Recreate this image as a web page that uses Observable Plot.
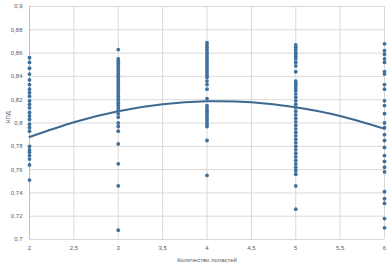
<!DOCTYPE html>
<html><head><meta charset="utf-8">
<script src="https://cdn.jsdelivr.net/npm/d3@7"></script>
<script src="https://cdn.jsdelivr.net/npm/@observablehq/plot@0.6"></script>
<style>body{margin:0;background:#fff}</style>
</head><body><div id="chart"></div>
<script>
const blades = [2, 3, 4, 5, 6];
const eff2 = [0.856,0.852,0.847,0.842,0.837,0.833,0.829,0.826,0.823,0.819,0.816,0.813,0.809,0.806,0.803,0.799,0.796,0.793,0.780,0.777,0.775,0.772,0.769,0.764,0.751];
const eff3 = [0.863,0.855,0.853,0.851,0.849,0.847,0.845,0.843,0.841,0.839,0.837,0.835,0.833,0.831,0.829,0.827,0.825,0.823,0.821,0.819,0.817,0.815,0.813,0.811,0.808,0.805,0.800,0.797,0.793,0.782,0.765,0.746,0.708];
const eff4 = [0.869,0.867,0.865,0.863,0.861,0.859,0.857,0.855,0.853,0.851,0.849,0.847,0.845,0.843,0.841,0.839,0.836,0.833,0.829,0.821,0.815,0.813,0.811,0.809,0.807,0.805,0.803,0.801,0.799,0.797,0.785,0.755];
const eff5 = [0.867,0.865,0.863,0.861,0.859,0.857,0.855,0.852,0.849,0.844,0.836,0.834,0.832,0.830,0.828,0.825,0.822,0.819,0.816,0.813,0.810,0.807,0.804,0.801,0.798,0.795,0.792,0.789,0.786,0.783,0.780,0.777,0.774,0.771,0.768,0.765,0.762,0.759,0.756,0.746,0.726];
const eff6 = [0.868,0.862,0.859,0.855,0.852,0.844,0.842,0.833,0.829,0.819,0.815,0.808,0.800,0.796,0.790,0.785,0.779,0.772,0.767,0.762,0.758,0.741,0.735,0.731,0.718,0.710];
const trendX = [2, 2.5, 3, 3.5, 4, 4.5, 5, 5.5, 6];
const trendY = [0.788, 0.8007, 0.8101, 0.816, 0.8186, 0.8178, 0.8135, 0.806, 0.795];
const xTicks = [2, 2.5, 3, 3.5, 4, 4.5, 5, 5.5, 6];
const yTicks = [0.7, 0.72, 0.74, 0.76, 0.78, 0.8, 0.82, 0.84, 0.86, 0.88, 0.9];
const xTitle = "Количество лопастей";
const yTitle = "КПД";

const effs = [eff2, eff3, eff4, eff5, eff6];
const points = blades.flatMap((b, i) => effs[i].map(v => ({x: b, y: v})));
const trend = trendX.map((x, i) => ({x, y: trendY[i]}));
const fmt = d => String(d).replace(".", ",");

const chart = Plot.plot({
  width: 391, height: 264,
  marginLeft: 29, marginRight: 7, marginTop: 6, marginBottom: 25,
  style: {fontFamily: "'Liberation Sans', sans-serif", fontSize: "6px", color: "#595959", background: "#fff"},
  x: {domain: [2, 6], ticks: xTicks, tickFormat: fmt},
  y: {domain: [0.7, 0.9], ticks: yTicks, tickFormat: fmt},
  marks: [
    Plot.gridX(xTicks, {stroke: "#d9d9d9", strokeOpacity: 1, strokeWidth: 1}),
    Plot.gridY(yTicks, {stroke: "#d9d9d9", strokeOpacity: 1, strokeWidth: 1}),
    Plot.ruleX([2], {stroke: "#bfbfbf"}),
    Plot.axisX({ticks: xTicks, tickFormat: fmt, tickSize: 0, tickPadding: 6, label: null}),
    Plot.axisY({ticks: yTicks, tickFormat: fmt, tickSize: 0, tickPadding: 7, label: null}),
    Plot.text([xTitle], {frameAnchor: "bottom", dy: 22, fill: "#595959", fontSize: 6}),
    Plot.text([yTitle], {frameAnchor: "left", dx: -21, rotate: -90, fill: "#595959", fontSize: 6}),
    Plot.line(trend, {x: "x", y: "y", curve: "natural", stroke: "#3d6990", strokeWidth: 2}),
    Plot.dot(points, {x: "x", y: "y", r: 1.9, fill: "#40709c", stroke: "none"})
  ]
});
document.getElementById("chart").appendChild(chart);
</script></body></html>
